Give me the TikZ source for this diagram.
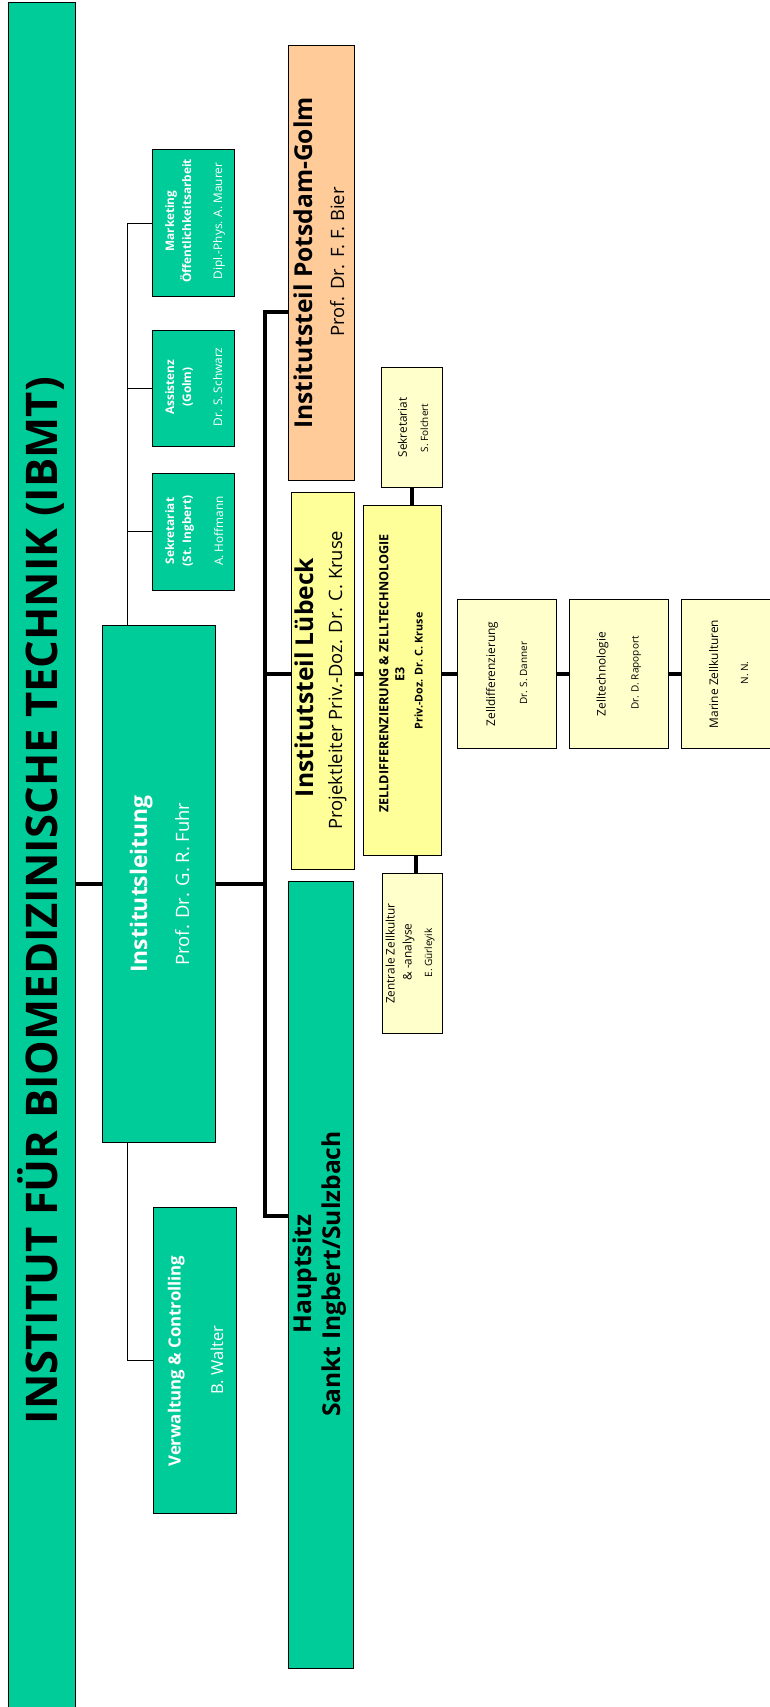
\documentclass[tikz,border=0pt]{standalone}
\usepackage{fontspec}
\setmainfont{Open Sans}
\usetikzlibrary{backgrounds}
\definecolor{ibmtgreen}{RGB}{0,204,153}
\definecolor{orangebox}{RGB}{255,204,153}
\definecolor{yellowbox}{RGB}{255,255,153}
\definecolor{paleyellow}{RGB}{255,255,204}
\newcommand\fs[1]{\fontsize{#1pt}{#1pt}\selectfont}
\tikzset{
  box/.style={draw=black, line width=1pt, inner sep=0pt, outer sep=0pt},
  greenbox/.style={box, fill=ibmtgreen},
  orangeb/.style={box, fill=orangebox},
  yellowb/.style={box, fill=yellowbox},
  paleb/.style={box, fill=paleyellow},
  lbl/.style={rotate=90, anchor=base, inner sep=0pt, outer sep=0pt},
  wlbl/.style={lbl, text=white},
  thinline/.style={line width=1pt, draw=black},
  thickline/.style={line width=3.6pt, draw=black},
}
\begin{document}
\begin{tikzpicture}[x=1pt,y=-1pt]
\useasboundingbox (0,0) rectangle (770,1707);
\clip (0,0) rectangle (770,1707);
% boxes
\node[greenbox, minimum width=67pt, minimum height=1709pt] (title) at (41.5,857.5) {};
\node[greenbox, minimum width=113.5pt, minimum height=516.5pt] (inst) at (158.75,883.75) {};
\node[greenbox, minimum width=82pt, minimum height=146pt] (mkt) at (193.5,223) {};
\node[greenbox, minimum width=82pt, minimum height=116pt] (ass) at (193.5,388) {};
\node[greenbox, minimum width=82pt, minimum height=117pt] (sek) at (193.5,531.5) {};
\node[greenbox, minimum width=83.5pt, minimum height=306pt] (verw) at (194.75,1360) {};
\node[orangeb, minimum width=65.5pt, minimum height=434.9pt] (pots) at (321.25,263.25) {};
\node[yellowb, minimum width=63pt, minimum height=377pt] (lueb) at (322.5,680.5) {};
\node[greenbox, minimum width=65pt, minimum height=786.5pt] (haupt) at (321,1274.75) {};
\node[yellowb, minimum width=78pt, minimum height=350pt] (zd) at (402.5,680.5) {};
\node[paleb, minimum width=61pt, minimum height=120pt] (folc) at (411.5,427) {};
\node[paleb, minimum width=60.5pt, minimum height=160.5pt] (zent) at (412.25,953.25) {};
\node[paleb, minimum width=98.7pt, minimum height=149pt] (dan) at (506.65,673.8) {};
\node[paleb, minimum width=98.7pt, minimum height=149pt] (zt) at (618.65,673.8) {};
\node[paleb, minimum width=98.7pt, minimum height=149pt] (mar) at (730.65,673.8) {};
% helper coordinates
\coordinate (sb) at (127,0);
\coordinate (trtop) at (265,311.7);
\coordinate (trbot) at (265,1216);
\coordinate (lrow) at (265,674);
\coordinate (fx) at (412,0);
\coordinate (zx) at (416,0);
% connectors
\begin{pgfonlayer}{background}
\draw[thinline] (sb |- mkt.west) -- (sb |- verw.west);
\draw[thinline] (sb |- mkt.west) -- (mkt.west);
\draw[thinline] (sb |- ass.west) -- (ass.west);
\draw[thinline] (sb |- sek.west) -- (sek.west);
\draw[thinline] (sb |- verw.west) -- (verw.west);
\draw[thickline] (title.east |- inst.west) -- (inst.west);
\draw[thickline] (inst.east) -- (inst.east -| trtop);
\draw[thickline] (pots.west |- trtop) -- (trtop) -- (trbot) -- (haupt.west |- trbot);
\draw[thickline] (lrow) -- (lrow -| lueb.west);
\draw[thickline] (lueb.east |- lrow) -- (zd.west |- lrow);
\draw[thickline] (zd.east |- lrow) -- (dan.west |- lrow);
\draw[thickline] (dan.east |- lrow) -- (zt.west |- lrow);
\draw[thickline] (zt.east |- lrow) -- (mar.west |- lrow);
\draw[thickline] (folc.south -| fx) -- (zd.north -| fx);
\draw[thickline] (zd.south -| zx) -- (zent.north -| zx);
\end{pgfonlayer}
% texts
\node[lbl, font=\fs{43.6}\bfseries] (t1) at (57.3,900.7) {INSTITUT FÜR BIOMEDIZINISCHE TECHNIK (IBMT)};
\node[wlbl, font=\fs{22.9}\bfseries] (il1) at (147,884) {Institutsleitung};
\node[wlbl, font=\fs{18.4}] (il2) at (189,884) {Prof. Dr. G. R. Fuhr};
\node[wlbl, font=\fs{11.8}\bfseries] (mk1) at (174,221) {Marketing};
\node[wlbl, font=\fs{11.8}\bfseries] (mk2) at (191,221) {Öffentlichkeitsarbeit};
\node[wlbl, font=\fs{11.8}] (mk3) at (222,221) {Dipl.-Phys. A. Maurer};
\node[wlbl, font=\fs{11.8}\bfseries] (as1) at (174,387) {Assistenz};
\node[wlbl, font=\fs{11.8}\bfseries] (as2) at (191,387) {(Golm)};
\node[wlbl, font=\fs{11.8}] (as3) at (222,387) {Dr. S. Schwarz};
\node[wlbl, font=\fs{11.8}\bfseries] (sk1) at (174,531) {Sekretariat};
\node[wlbl, font=\fs{11.8}\bfseries] (sk2) at (191,531) {(St. Ingbert)};
\node[wlbl, font=\fs{11.8}] (sk3) at (223,531) {A. Hoffmann};
\node[wlbl, font=\fs{16.8}\bfseries] (vw1) at (180.5,1361) {Verwaltung \& Controlling};
\node[wlbl, font=\fs{16.5}] (vw2) at (223,1360) {B. Walter};
\node[lbl, font=\fs{24.6}\bfseries] (pt1) at (312,263) {Institutsteil Potsdam-Golm};
\node[lbl, font=\fs{18.4}] (pt2) at (344,262) {Prof. Dr. F. F. Bier};
\node[lbl, font=\fs{24.6}\bfseries] (lb1) at (313,677.5) {Institutsteil Lübeck};
\node[lbl, font=\fs{18.4}] (lb2) at (342,680) {Projektleiter Priv.-Doz. Dr. C. Kruse};
\node[lbl, font=\fs{24.6}\bfseries] (hs1) at (311,1274) {Hauptsitz};
\node[lbl, font=\fs{24.6}\bfseries] (hs2) at (340,1274) {Sankt Ingbert/Sulzbach};
\node[lbl, font=\fs{12.6}\bfseries] (zd1) at (388.3,673.5) {ZELLDIFFERENZIERUNG \& ZELLTECHNOLOGIE};
\node[lbl, font=\fs{12.6}\bfseries] (zd2) at (404.3,674) {E3};
\node[lbl, font=\fs{10.75}\bfseries] (zd3) at (422.7,671) {Priv.-Doz. Dr. C. Kruse};
\node[lbl, font=\fs{11.8}] (fo1) at (406.8,427.5) {Sekretariat};
\node[lbl, font=\fs{10}] (fo2) at (428,428) {S. Folchert};
\node[lbl, font=\fs{11.8}] (ze1) at (394.5,953.5) {Zentrale Zellkultur};
\node[lbl, font=\fs{11.8}] (ze2) at (411.5,952) {\& -analyse};
\node[lbl, font=\fs{10}] (ze3) at (432,953) {E. Gürleyik};
\node[lbl, font=\fs{11.9}] (dn1) at (495,674) {Zelldifferenzierung};
\node[lbl, font=\fs{10}] (dn2) at (527,673) {Dr. S. Danner};
\node[lbl, font=\fs{11.9}] (zt1) at (605.5,674) {Zelltechnologie};
\node[lbl, font=\fs{10}] (zt2) at (638.5,673) {Dr. D. Rapoport};
\node[lbl, font=\fs{11.9}] (mr1) at (718,674) {Marine Zellkulturen};
\node[lbl, font=\fs{10}] (mr2) at (748,673) {N. N.};
\end{tikzpicture}
\end{document}
